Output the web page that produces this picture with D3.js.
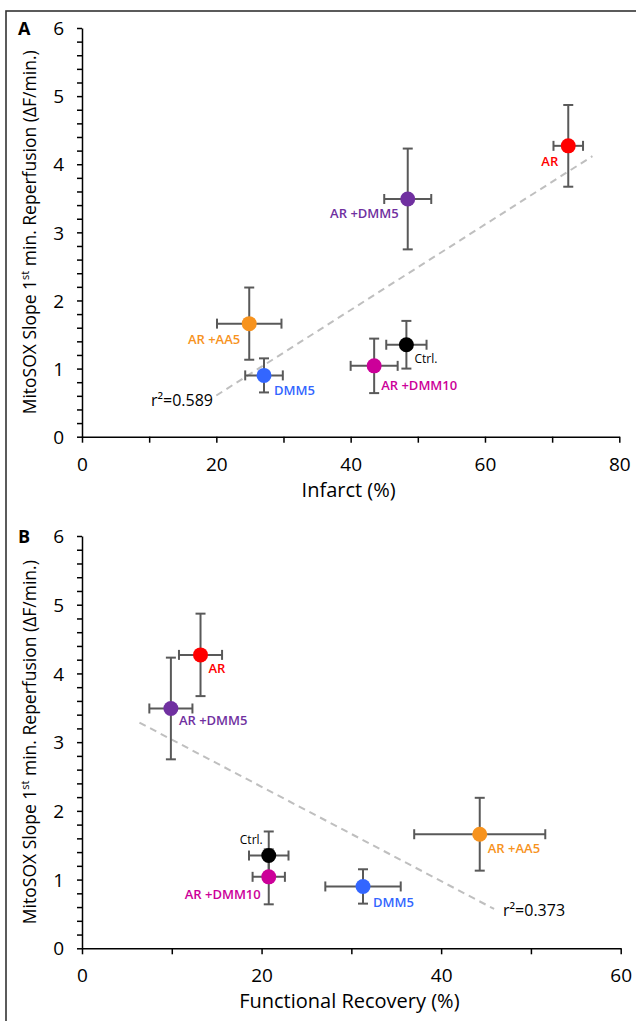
<!DOCTYPE html>
<html>
<head>
<meta charset="utf-8">
<script src="https://cdn.jsdelivr.net/npm/d3@7"></script>
<style>
	body { margin: 0; background: #fff; }
	svg { display: block; font-family: "Open Sans", sans-serif; }
</style>
</head>
<body>
<script>

	// группы и цвета
	const groups = ["AR", "AR +DMM5", "AR +AA5", "DMM5", "Ctrl.", "AR +DMM10"];
	const colors = ["#ff0000", "#7030a0", "#f7931e", "#3366ff", "#000000", "#cc0099"];

	// MitoSOX (общая ось Y)
	const mitosox = [4.27, 3.49, 1.66, 0.90, 1.35, 1.04];
	const mitosoxErr = [0.60, 0.74, 0.53, 0.25, 0.35, 0.40];

	// панель A — инфаркт
	const infarct = [72.4, 48.5, 24.9, 27.1, 48.3, 43.5];
	const infarctErr = [2.2, 3.5, 4.8, 2.8, 3.0, 3.5];

	// панель B — восстановление функции
	const recovery = [13.2, 9.9, 44.3, 31.3, 20.8, 20.8];
	const recoveryErr = [2.4, 2.4, 7.3, 4.2, 2.2, 1.8];

	const yTicks = [0, 1, 2, 3, 4, 5, 6];
	const xTicksA = [0, 20, 40, 60, 80];
	const xTicksB = [0, 20, 40, 60];
	const trendRangeA = [20, 76];
	const trendRangeB = [6.4, 45.9];
	const r2A = "r²=0.589";
	const r2B = "r²=0.373";

	const w = 636,
		h = 1021;

	const svg = d3
		.select("body")
		.append("svg")
		.attr("width", w)
		.attr("height", h);

	// общая рамка
	svg
		.append("rect")
		.attr("x", 6)
		.attr("y", 11)
		.attr("width", w)
		.attr("height", h)
		.attr("fill", "none")
		.attr("stroke", "#333")
		.attr("stroke-width", 1.6);

	// подписи у точек: dx, dy, anchor
	const labelsA = [
		[-10, 20, "end"], [-9, 19, "end"], [-9, 20, "end"],
		[10, 20, "start"], [8, 18, "start"], [7, 24, "start"]
	];
	const labelsB = [
		[8, 18, "start"], [8, 17, "start"], [8, 19, "start"],
		[10, 21, "start"], [-6, -12, "end"], [-8, 22, "end"]
	];

	function drawPanel(opt) {
		const x = d3.scaleLinear().domain(opt.xDomain).range(opt.xRange),
			y = d3.scaleLinear().domain([0, 6]).range(opt.yRange);

		const g = svg.append("g");

		// ось Y
		const yAxis = d3
			.axisLeft(y)
			.tickValues(d3.range(0, 6.01, 0.2))
			.tickSize(5)
			.tickSizeOuter(0)
			.tickFormat(d => (yTicks.includes(Math.round(d * 10) / 10) && Math.abs(d - Math.round(d)) < 1e-6 ? Math.round(d) : ""));

		const ya = g
			.append("g")
			.attr("transform", `translate(${opt.xRange[0]},0)`)
			.call(yAxis);

		ya.selectAll("text")
			.attr("x", -18)
			.attr("dy", "0.35em")
			.attr("font-size", "19px")
			.attr("font-family", "Open Sans")
			.attr("fill", "#000");

		// ось X
		const xAxis = d3
			.axisBottom(x)
			.tickValues(d3.range(opt.xDomain[0], opt.xDomain[1] + 0.01, 10))
			.tickSize(6)
			.tickSizeOuter(0)
			.tickFormat(d => (opt.xTicks.includes(d) ? d : ""));

		const xa = g
			.append("g")
			.attr("transform", `translate(0,${opt.yRange[0]})`)
			.call(xAxis);

		xa.selectAll("text")
			.attr("y", 34)
			.attr("dy", 0)
			.attr("font-size", "19px")
			.attr("font-family", "Open Sans")
			.attr("fill", "#000");

		g.selectAll(".domain, .tick line")
			.attr("stroke", "#000")
			.attr("stroke-width", 1.5);

		// заголовки осей
		g.append("text")
			.attr("x", (opt.xRange[0] + opt.xRange[1]) / 2 - 2)
			.attr("y", opt.yRange[0] + 60)
			.attr("text-anchor", "middle")
			.attr("font-size", "20px")
			.text(opt.xTitle);

		const yt = g
			.append("text")
			.attr("transform", `translate(36,${(opt.yRange[0] + opt.yRange[1]) / 2}) rotate(-90)`)
			.attr("text-anchor", "middle")
			.attr("font-size", "17.5px");

		yt.append("tspan").text("MitoSOX Slope 1");
		yt.append("tspan").attr("font-size", "11px").attr("dy", "-0.6em").text("st");
		yt.append("tspan").attr("dy", "0.4em").text(" min. Reperfusion (ΔF/min.)");

		// буква панели
		g.append("text")
			.attr("x", 18)
			.attr("y", opt.yRange[1] + 7)
			.attr("font-size", "18px")
			.attr("font-weight", "bold")
			.text(opt.letter);

		// линия тренда (МНК)
		const mx = d3.mean(opt.xs),
			my = d3.mean(mitosox);
		const sxy = d3.sum(opt.xs, (v, i) => (v - mx) * (mitosox[i] - my)),
			sxx = d3.sum(opt.xs, v => (v - mx) * (v - mx));
		const slope = sxy / sxx,
			icpt = my - slope * mx;

		g.append("line")
			.attr("x1", x(opt.trend[0]))
			.attr("y1", y(icpt + slope * opt.trend[0]))
			.attr("x2", x(opt.trend[1]))
			.attr("y2", y(icpt + slope * opt.trend[1]))
			.attr("stroke", "#bfbfbf")
			.attr("stroke-width", 2)
			.attr("stroke-dasharray", "7,5");

		g.append("text")
			.attr("x", opt.r2Pos[0])
			.attr("y", opt.r2Pos[1])
			.attr("text-anchor", opt.r2Pos[2])
			.attr("font-size", "16px")
			.text(opt.r2);

		const data = groups.map((name, i) => ({
			name: name,
			color: colors[i],
			x: opt.xs[i],
			xe: opt.xErr[i],
			y: mitosox[i],
			ye: mitosoxErr[i],
			lab: opt.labels[i]
		}));

		// планки погрешностей
		const cap = 5;
		const eb = g
			.selectAll(".eb")
			.data(data)
			.enter()
			.append("g")
			.attr("stroke", "#595959")
			.attr("stroke-width", 2);

		eb.append("line")
			.attr("x1", d => x(d.x - d.xe))
			.attr("x2", d => x(d.x + d.xe))
			.attr("y1", d => y(d.y))
			.attr("y2", d => y(d.y));
		eb.append("line")
			.attr("x1", d => x(d.x))
			.attr("x2", d => x(d.x))
			.attr("y1", d => y(d.y - d.ye))
			.attr("y2", d => y(d.y + d.ye));
		[-1, 1].forEach(s => {
			eb.append("line")
				.attr("x1", d => x(d.x + s * d.xe))
				.attr("x2", d => x(d.x + s * d.xe))
				.attr("y1", d => y(d.y) - cap)
				.attr("y2", d => y(d.y) + cap);
			eb.append("line")
				.attr("x1", d => x(d.x) - cap)
				.attr("x2", d => x(d.x) + cap)
				.attr("y1", d => y(d.y + s * d.ye))
				.attr("y2", d => y(d.y + s * d.ye));
		});

		// точки
		g.selectAll(".pt")
			.data(data)
			.enter()
			.append("circle")
			.attr("cx", d => x(d.x))
			.attr("cy", d => y(d.y))
			.attr("r", 7.5)
			.attr("fill", d => d.color);

		// подписи групп
		g.selectAll(".lab")
			.data(data)
			.enter()
			.append("text")
			.attr("x", d => x(d.x) + d.lab[0])
			.attr("y", d => y(d.y) + d.lab[1])
			.attr("text-anchor", d => d.lab[2])
			.attr("font-size", d => (d.name === "Ctrl." ? "12px" : "13px"))
			.attr("font-weight", d => (d.name === "Ctrl." ? 400 : 600))
			.attr("fill", d => d.color)
			.text(d => d.name);
	}

	drawPanel({
		letter: "A",
		xDomain: [0, 80],
		xRange: [82, 619.3],
		yRange: [436.7, 28],
		xTicks: xTicksA,
		xs: infarct,
		xErr: infarctErr,
		labels: labelsA,
		trend: trendRangeA,
		r2: r2A,
		r2Pos: [213, 406, "end"],
		xTitle: "Infarct (%)"
	});

	drawPanel({
		letter: "B",
		xDomain: [0, 60],
		xRange: [82, 620.7],
		yRange: [948.3, 536],
		xTicks: xTicksB,
		xs: recovery,
		xErr: recoveryErr,
		labels: labelsB,
		trend: trendRangeB,
		r2: r2B,
		r2Pos: [503, 916, "start"],
		xTitle: "Functional Recovery (%)"
	});

</script>
</body>
</html>
